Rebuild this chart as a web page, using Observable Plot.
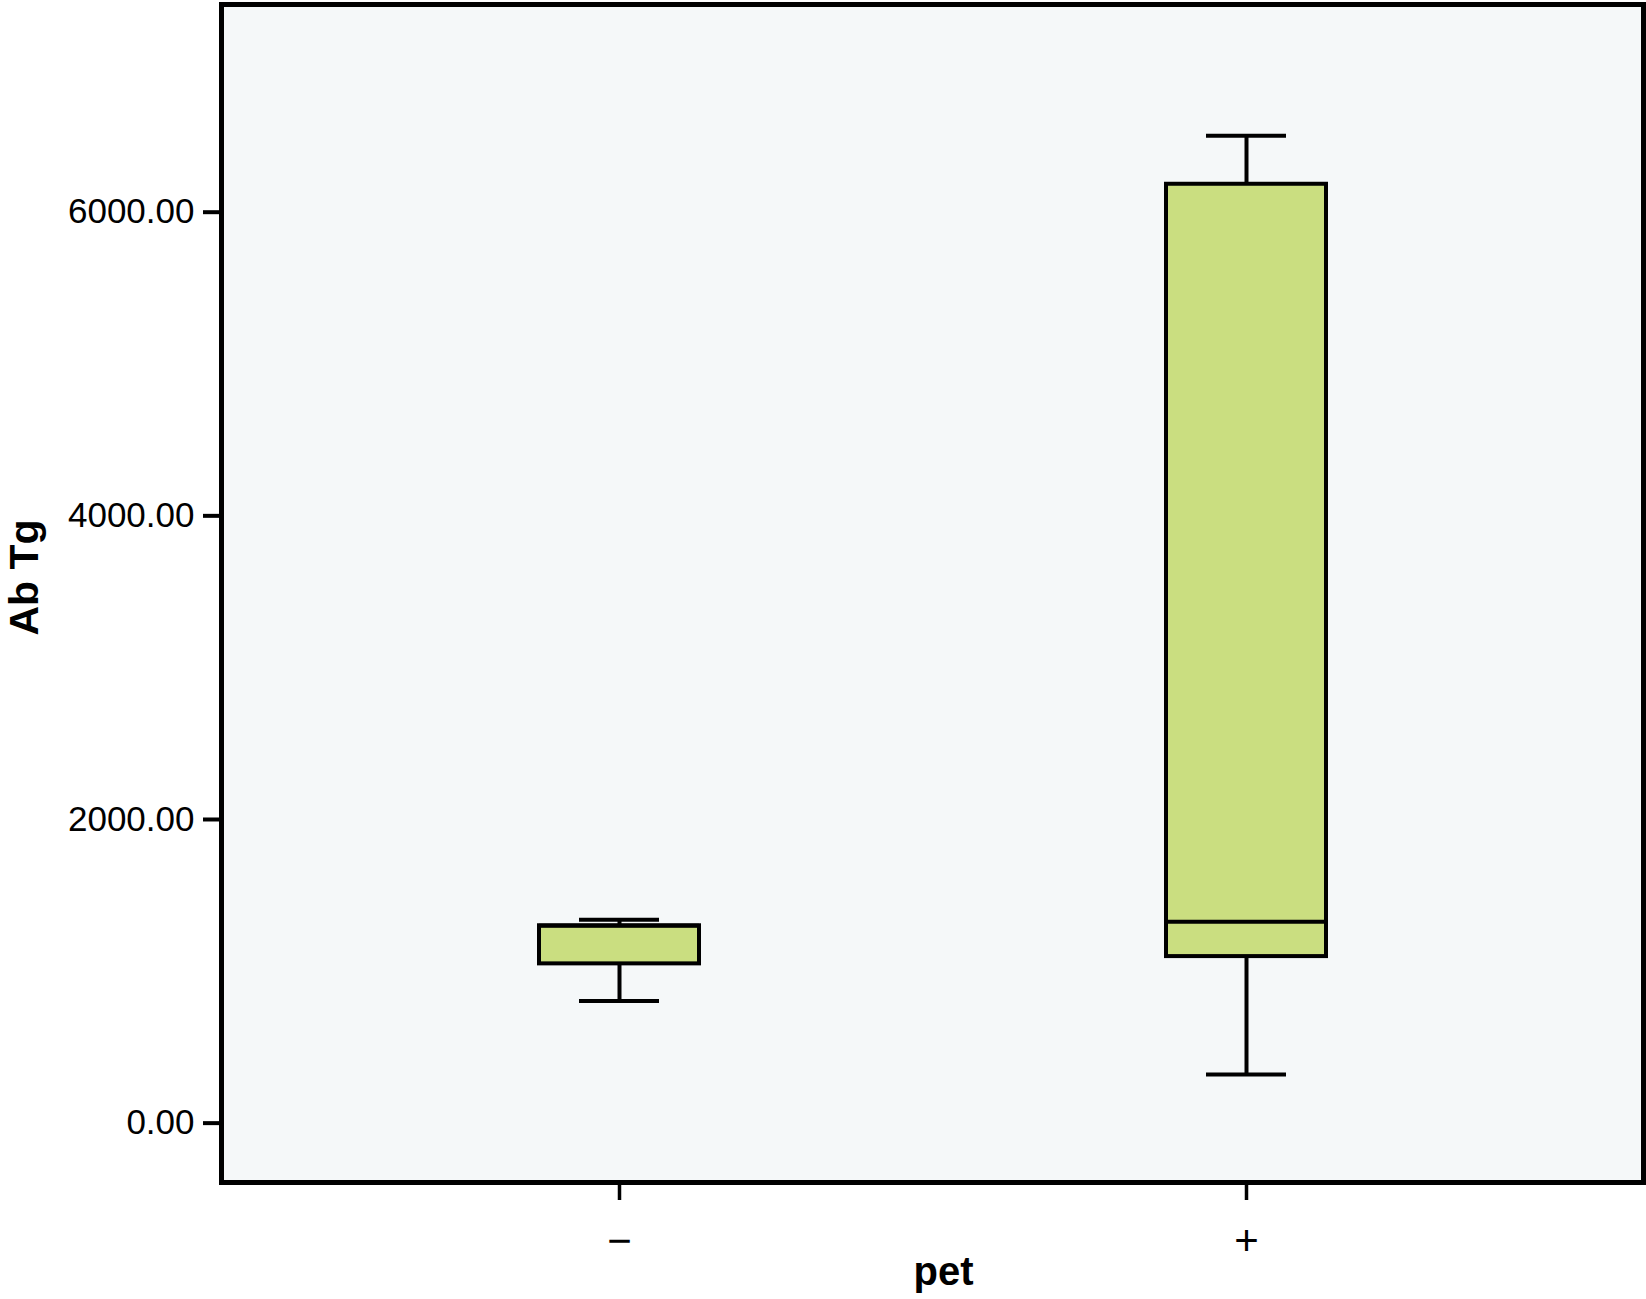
<!DOCTYPE html>
<html>
<head>
<meta charset="utf-8">
<script src="https://cdn.jsdelivr.net/npm/d3@7"></script>
<script src="https://cdn.jsdelivr.net/npm/@observablehq/plot@0.6"></script>
<style>
  html, body { margin: 0; padding: 0; background: #ffffff; }
</style>
</head>
<body>
<div id="chart"></div>
<script>
const categories = ["\u2212", "+"];
const lowWhisker = [805, 320];
const q1Values = [1049, 1097];
const medianValues = [1300, 1326];
const q3Values = [1300, 6184];
const highWhisker = [1340, 6503];
const yTicks = [0, 2000, 4000, 6000];
const xTitle = "pet";
const yTitle = "Ab Tg";

const rows = categories.map((c, i) => ({
  cat: c, lo: lowWhisker[i], q1: q1Values[i], med: medianValues[i], q3: q3Values[i], hi: highWhisker[i]
}));

const chart = Plot.plot({
  width: 1646,
  height: 1299,
  marginLeft: 221,
  marginRight: 3,
  marginTop: 4,
  marginBottom: 117,
  style: { fontFamily: "'Liberation Sans', Arial, Helvetica, sans-serif", background: "#ffffff", color: "#000000" },
  x: { type: "band", domain: categories, paddingInner: 0.745, paddingOuter: 0.505 },
  y: { domain: [-391, 7368] },
  marks: [
    Plot.frame({ fill: "#f5f8f9", stroke: null }),
    Plot.ruleX(rows, { x: "cat", y1: "q3", y2: "hi", stroke: "#000", strokeWidth: 4 }),
    Plot.ruleX(rows, { x: "cat", y1: "lo", y2: "q1", stroke: "#000", strokeWidth: 4 }),
    Plot.barY(rows, { x: "cat", y1: "q1", y2: "q3", fill: "#cade80", stroke: "#000", strokeWidth: 4 }),
    Plot.tickY(rows, { x: "cat", y: "med", stroke: "#000", strokeWidth: 4 }),
    Plot.tickY(rows, { x: "cat", y: "hi", stroke: "#000", strokeWidth: 4, insetLeft: 40, insetRight: 40 }),
    Plot.tickY(rows, { x: "cat", y: "lo", stroke: "#000", strokeWidth: 4, insetLeft: 40, insetRight: 40 }),
    Plot.axisY({ ticks: yTicks, tickFormat: d => d.toFixed(2), tickSize: 18, tickPadding: 9, fontSize: 35, strokeWidth: 4, label: null }),
    Plot.axisX({ tickSize: 18, tickPadding: 25, fontSize: 42, strokeWidth: 3.5, label: null }),
    Plot.frame({ stroke: "#000", strokeWidth: 5 }),
    Plot.text([xTitle], { frameAnchor: "bottom", dx: 11, dy: 102, fontWeight: "bold", fontSize: 40, fill: "#000" }),
    Plot.text([yTitle], { frameAnchor: "left", textAnchor: "middle", rotate: -90, dx: -197, dy: -16, fontWeight: "bold", fontSize: 41, fill: "#000" })
  ]
});
document.getElementById("chart").appendChild(chart);
</script>
</body>
</html>
